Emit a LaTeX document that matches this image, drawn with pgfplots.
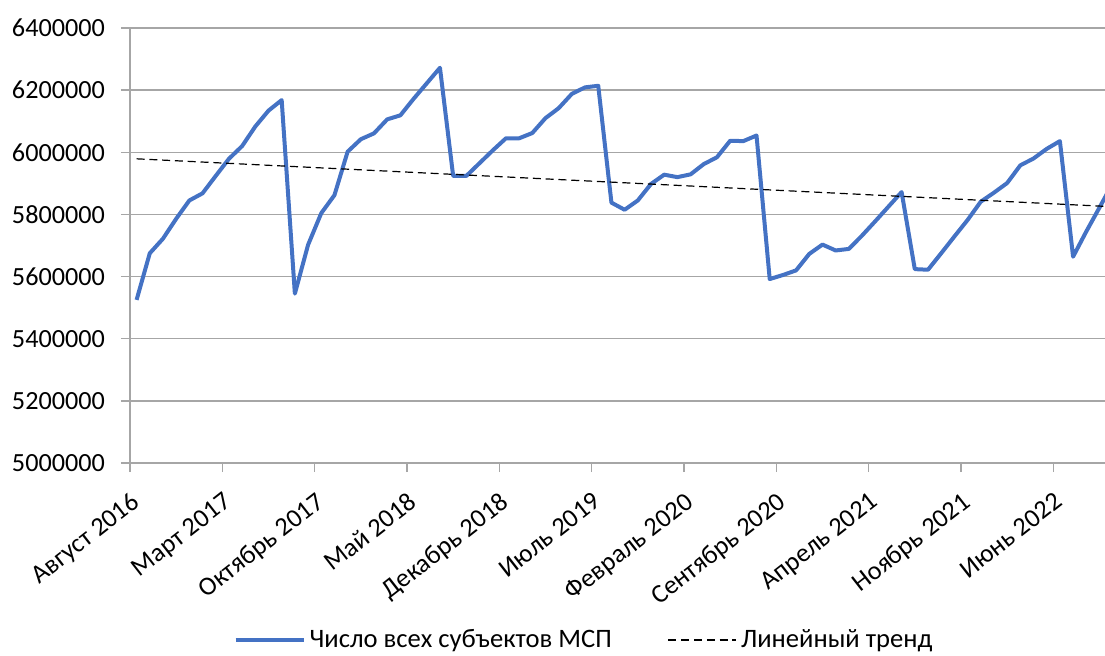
\documentclass[border=0pt]{standalone}
\usepackage{fontspec}
\setmainfont{Carlito}
\usepackage{pgfplots}
\pgfplotsset{compat=1.18}
\definecolor{mspblue}{HTML}{4472C4}
\definecolor{gridgray}{HTML}{A6A6A6}

\pgfplotstableread{
i val
0 5525000
1 5675000
2 5722000
3 5786000
4 5845000
5 5868000
6 5924000
7 5979000
8 6020000
9 6083000
10 6134000
11 6168000
12 5545000
13 5702000
14 5804000
15 5862000
16 6002000
17 6042000
18 6061000
19 6106000
20 6119000
21 6172000
22 6222000
23 6272000
24 5924000
25 5924000
26 5965000
27 6006000
28 6045000
29 6045000
30 6062000
31 6110000
32 6142000
33 6188000
34 6209000
35 6214000
36 5838000
37 5815000
38 5845000
39 5898000
40 5928000
41 5920000
42 5929000
43 5962000
44 5984000
45 6037000
46 6036000
47 6054000
48 5592000
49 5605000
50 5620000
51 5673000
52 5703000
53 5684000
54 5689000
55 5732000
56 5778000
57 5825000
58 5872000
59 5624000
60 5622000
61 5675000
62 5729000
63 5782000
64 5841000
65 5870000
66 5901000
67 5958000
68 5980000
69 6011000
70 6036000
71 5664000
72 5745000
73 5822000
74 5900000
}\msp

\begin{document}
\begin{tikzpicture}
\begin{axis}[
  at={(0,0)}, anchor=south west,
  scale only axis,
  width=487.5pt, height=217.5pt,
  xmin=-0.5, xmax=73.42,
  ymin=5000000, ymax=6400000,
  scaled y ticks=false,
  axis x line*=bottom, axis y line*=left,
  axis line style={-, draw=gridgray, line width=0.75pt},
  ytick={5000000,5200000,5400000,5600000,5800000,6000000,6200000,6400000},
  yticklabels={5000000,5200000,5400000,5600000,5800000,6000000,6200000,6400000},
  ymajorgrids,
  grid style={draw=gridgray, line width=0.75pt},
  xtick={0,7,...,70},
  xticklabels={Август 2016,Март 2017,Октябрь 2017,Май 2018,Декабрь 2018,Июль 2019,Февраль 2020,Сентябрь 2020,Апрель 2021,Ноябрь 2021,Июнь 2022},
  minor xtick={-0.5,6.5,...,69.5},
  tick align=outside,
  major tick length=4.5pt,
  minor tick length=4.5pt,
  major x tick style={draw=none},
  tick style={draw=gridgray, line width=0.75pt},
  tick label style={font=\fontsize{13.1pt}{15pt}\selectfont},
  yticklabel style={xshift=-4.5pt},
  xticklabel style={rotate=38, anchor=north east, xshift=-5pt, yshift=-2pt},
  legend style={draw=none, at={(0.4667,-0.407)}, anchor=center,
    font=\fontsize{13.3pt}{15pt}\selectfont, legend columns=2,
    /tikz/every even column/.append style={column sep=26pt}},
  legend image code/.code={\draw[#1] (0pt,0pt) -- (34pt,0pt);},
  clip=true,
]
\addplot[mspblue, line width=2pt, line join=round] table[x=i, y=val] {\msp};
\addlegendentry{Число всех субъектов МСП}
\addplot[black, line width=0.6pt, dash pattern=on 4pt off 2.4pt] coordinates {(0,5979000) (74,5824800)};
\addlegendentry{Линейный тренд}
\end{axis}
\pgfresetboundingbox
\path (-65pt,-96pt) rectangle (487.5pt,231.5pt);
\end{tikzpicture}
\end{document}
